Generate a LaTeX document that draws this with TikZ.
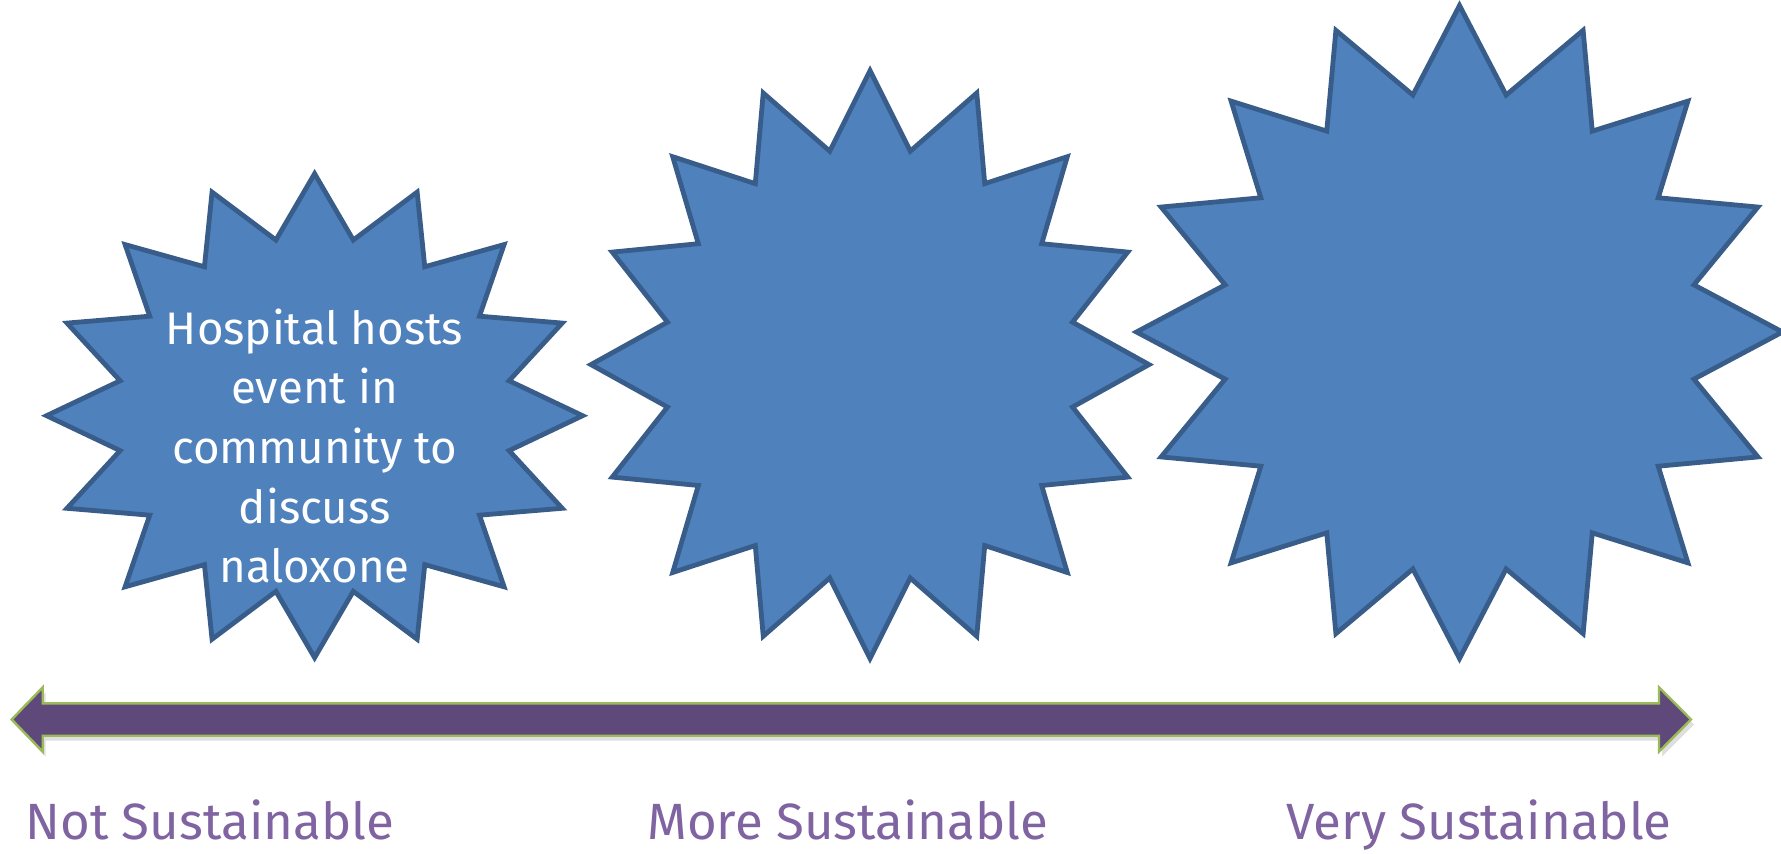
\documentclass[tikz,border=0pt]{standalone}
\usepackage{fontspec}
\setmainfont{Fira Sans}
\usetikzlibrary{shadows}

\definecolor{burstfill}{HTML}{4F81BD}
\definecolor{burstline}{HTML}{385D8A}
\definecolor{barfill}{HTML}{5F497A}
\definecolor{barline}{HTML}{9BBB59}
\definecolor{levelpurple}{HTML}{8064A2}

\tikzset{
  burst/.style={draw=burstline, fill=burstfill, line width=2.4pt, line join=miter},
  scalebar/.style={draw=barline, fill=barfill, line width=1.2pt, line join=miter,
    drop shadow={opacity=0.25, shadow xshift=1.5pt, shadow yshift=-2.5pt}},
  levellabel/.style={anchor=base west, inner sep=0pt, text=levelpurple,
    font=\fontsize{25.5}{30}\selectfont},
}

\begin{document}
\begin{tikzpicture}[x=0.5pt,y=-0.5pt]
\useasboundingbox (0,0) rectangle (1781,854);

%Shape: 16-point star, small
\draw[burst, shift={(314.6,415.7)}] (90:268 and 242)
  \foreach \k in {0,...,15}{ -- ({101.25+22.5*\k}:198.3 and 179.1) -- ({112.5+22.5*\k}:268 and 242) } -- cycle;
%Shape: 16-point star, middle
\draw[burst, shift={(870,364.6)}] (90:279 and 294)
  \foreach \k in {0,...,15}{ -- ({101.25+22.5*\k}:206.5 and 217.6) -- ({112.5+22.5*\k}:279 and 294) } -- cycle;
%Shape: 16-point star, large
\draw[burst, shift={(1459.5,332)}] (90:323 and 326.5)
  \foreach \k in {0,...,15}{ -- ({101.25+22.5*\k}:239 and 241.6) -- ({112.5+22.5*\k}:323 and 326.5) } -- cycle;

%Shape: Left-Right Arrow
\draw[scalebar] (11.7,719.5) -- (42.7,687.3) -- (42.7,703.3) -- (1659,703.3) -- (1659,687.3)
  -- (1691,719.5) -- (1659,751.7) -- (1659,735.7) -- (42.7,735.7) -- (42.7,751.7) -- cycle;

% Text Node
\node (hosts) [align=center, inner sep=0pt, text=white, font=\fontsize{22.8}{29.8}\selectfont]
  at (314.6,446) {Hospital hosts\\event in\\community to\\discuss\\naloxone};
% Text Node
\node (notsus) [levellabel] at (25,839) {Not Sustainable};
% Text Node
\node (moresus) [levellabel] at (647,839) {More Sustainable};
% Text Node
\node (verysus) [levellabel] at (1286,839) {Very Sustainable};

\end{tikzpicture}
\end{document}
